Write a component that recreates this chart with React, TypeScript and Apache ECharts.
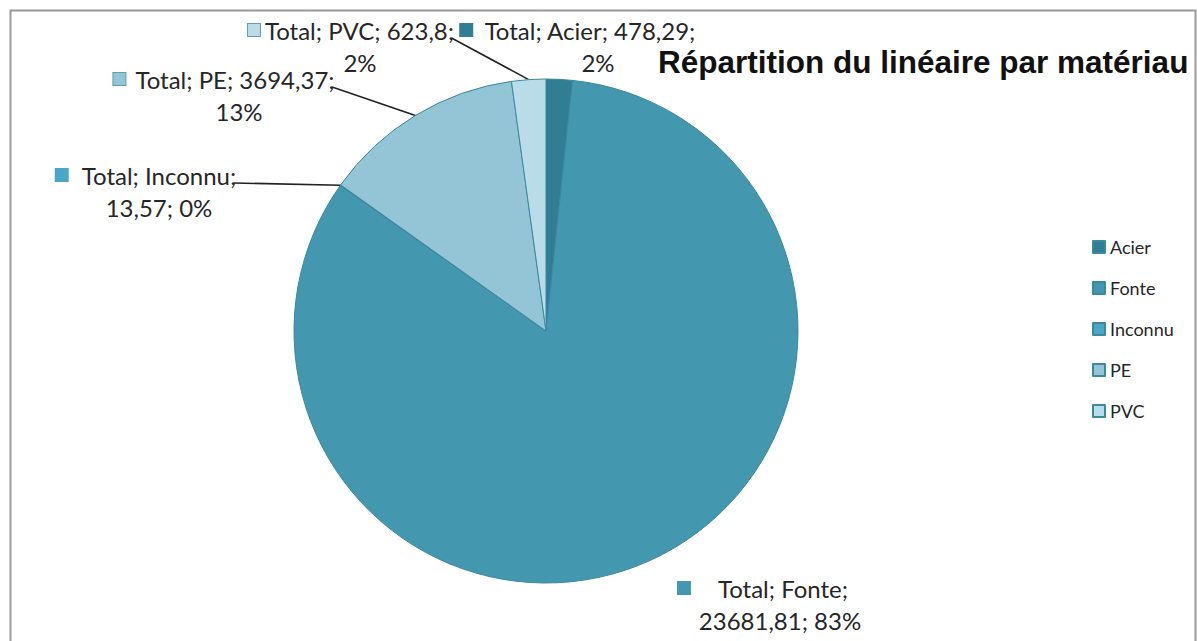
import React, { useEffect, useRef } from "react";
import * as echarts from "echarts";

const seriesName = "Total";
const categories = ["Acier", "Fonte", "Inconnu", "PE", "PVC"];
const values = [478.29, 23681.81, 13.57, 3694.37, 623.8];
const colors = ["#2F7E93", "#4398B0", "#4AA7C3", "#93C5D6", "#BADCE8"];
const titleText = "Répartition du linéaire par matériau";

// label layout (centre of each label block) and styling helpers
const labelPos: number[][] = [
  [578, 46],
  [763, 604],
  [146, 191],
  [224, 95],
  [351, 46],
];
const wrapAfterName = [false, true, true, false, false];
const keyGap = [12, 28, 14, 10, 5];
const secondLinePad = [40, 34, 26, 30, 18];
const showLeader = [false, false, true, true, true];

const fmtNum = (v: number) => String(v).replace(".", ",");

export default function App() {
  const ref = useRef<HTMLDivElement>(null);
  useEffect(() => {
    if (!ref.current) return;
    const chart = echarts.init(ref.current, null, { renderer: "svg" });
    const rich: any = {
      t: { fontSize: 24, fontFamily: "Lato", color: "#262626", lineHeight: 32 },
    };
    colors.forEach((c, i) => {
      rich["sq" + i] = {
        width: 12,
        height: 12,
        backgroundColor: c,
        borderColor: i >= 3 ? "#5e9fb3" : c,
        borderWidth: 1,
      };
      rich["gap" + i] = { width: keyGap[i] };
      rich["pad" + i] = { width: secondLinePad[i] };
    });
    const total = values.reduce((a, b) => a + b, 0);
    chart.setOption({
      animation: false,
      color: colors,
      graphic: [
        {
          type: "rect",
          shape: { x: 10.5, y: 10.5, width: 1185, height: 660 },
          style: { fill: "none", stroke: "#999", lineWidth: 2 },
          silent: true,
        },
      ],
      title: {
        text: titleText,
        left: 653,
        top: 41,
        textStyle: {
          fontFamily: "Liberation Sans",
          fontWeight: "bold",
          fontSize: 31.5,
          color: "#111",
        },
      },
      legend: {
        orient: "vertical",
        left: 1087,
        top: 233,
        icon: "rect",
        itemWidth: 12,
        itemHeight: 12,
        itemGap: 23,
        data: categories,
        textStyle: { fontFamily: "Lato", fontSize: 18, lineHeight: 18, color: "#262626" },
      },
      series: [
        {
          name: seriesName,
          type: "pie",
          center: [546, 331],
          radius: [0, 252],
          startAngle: 90,
          clockwise: true,
          avoidLabelOverlap: false,
          itemStyle: { borderColor: "#3c889d", borderWidth: 1 },
          emphasis: { disabled: true },
          data: categories.map((c, i) => ({
            name: c,
            value: values[i],
            labelLine: { show: showLeader[i] },
          })),
          label: {
            show: true,
            position: "outside",
            rich,
            formatter: (p: any) => {
              const i = p.dataIndex;
              const pct = Math.round((values[i] / total) * 100) + "%";
              const val = fmtNum(values[i]);
              const l1 = wrapAfterName[i]
                ? `${seriesName}; ${p.name};`
                : `${seriesName}; ${p.name}; ${val};`;
              const l2 = wrapAfterName[i] ? `${val}; ${pct}` : pct;
              return `{sq${i}|}{gap${i}|}{t|${l1}}\n{pad${i}|}{t|${l2}}`;
            },
          },
          labelLine: {
            show: true,
            length: 10,
            length2: 10,
            lineStyle: { color: "#222", width: 1.6 },
          },
          labelLayout: (params: any) => {
            const i = params.dataIndex;
            const [cx, cy] = labelPos[i];
            const w = params.labelRect.width;
            const res: any = {
              x: cx,
              y: cy,
              align: "center",
              verticalAlign: "middle",
            };
            if (showLeader[i] && params.labelLinePoints) {
              const anchor = params.labelLinePoints[0];
              const ex = cx + w / 2 - 3;
              const ey = cy - 8;
              res.labelLinePoints = [anchor, [ex, ey], [ex, ey]];
            }
            return res;
          },
        },
      ],
    });
    return () => chart.dispose();
  }, []);
  return (
    <div
      ref={ref}
      style={{ position: "fixed", left: 0, top: 0, width: 1197, height: 641, background: "#fff" }}
    />
  );
}
